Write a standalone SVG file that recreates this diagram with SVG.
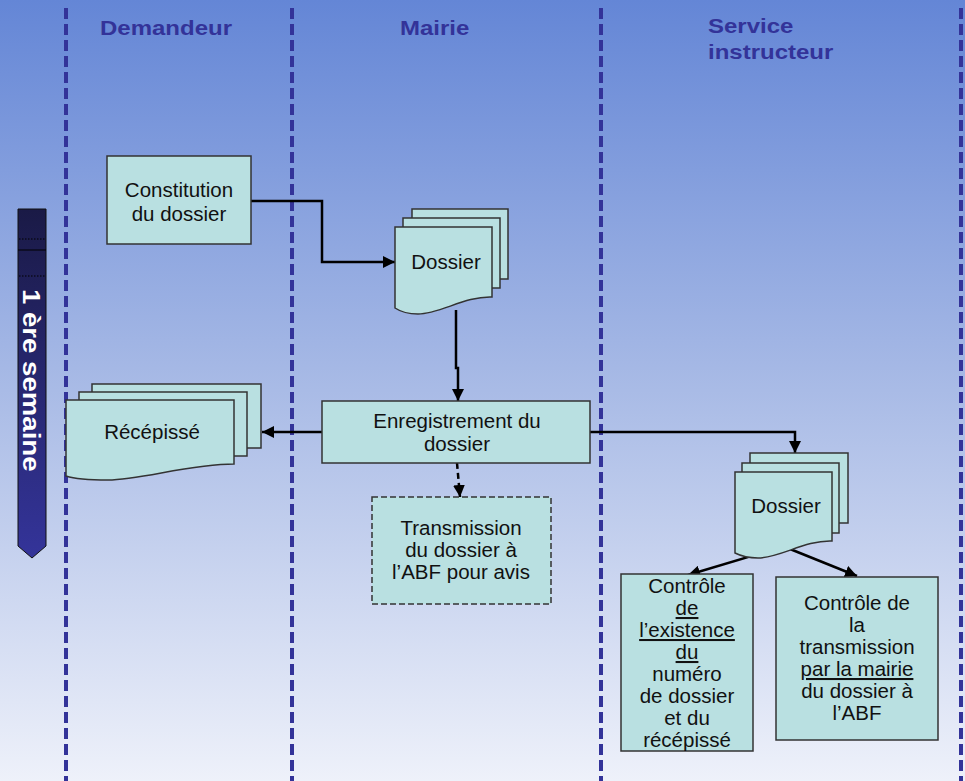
<svg xmlns="http://www.w3.org/2000/svg" width="965" height="781" viewBox="0 0 965 781">
<defs>
<linearGradient id="bg" x1="0" y1="0" x2="0" y2="1">
<stop offset="0" stop-color="#6486d6"/>
<stop offset="0.5" stop-color="#a9bbe6"/>
<stop offset="1" stop-color="#eef1fa"/>
</linearGradient>
<linearGradient id="bar" x1="0" y1="0" x2="0" y2="1">
<stop offset="0" stop-color="#1a1a46"/>
<stop offset="1" stop-color="#34349a"/>
</linearGradient>
<marker id="ah" markerUnits="userSpaceOnUse" markerWidth="14" markerHeight="12" refX="12" refY="6" orient="auto">
<path d="M0,0 L12,6 L0,12 Z" fill="#000"/>
</marker>
<style>
.lane{stroke:#333399;stroke-width:4;stroke-dasharray:11 5;fill:none}
.hdr{font-family:"Liberation Sans",Arial,sans-serif;font-weight:bold;font-size:20px;fill:#333399}
.box{fill:#b9e0e1;stroke:#333;stroke-width:1.5}
.t{font-family:"Liberation Sans",Arial,sans-serif;font-size:20.5px;fill:#111;text-anchor:middle}
.c{stroke:#000;stroke-width:2.5;fill:none}
.u{text-decoration:underline}
</style>
</defs>
<rect width="965" height="781" fill="url(#bg)"/>
<g id="lanes">
<line class="lane" x1="66" y1="8" x2="66" y2="781"/>
<line class="lane" x1="292" y1="8" x2="292" y2="781"/>
<line class="lane" x1="601" y1="8" x2="601" y2="781"/>
<line class="lane" x1="961" y1="8" x2="961" y2="781"/>
</g>
<g id="headers">
<text class="hdr" transform="translate(100,35) scale(1.2,1)">Demandeur</text>
<text class="hdr" transform="translate(400,35) scale(1.2,1)">Mairie</text>
<text class="hdr" transform="translate(708,33) scale(1.2,1)">Service</text>
<text class="hdr" transform="translate(708,59) scale(1.2,1)">instructeur</text>
</g>
<g id="week">
<path d="M18,209 H46 V546 L32,558 L18,546 Z" fill="url(#bar)" stroke="#111" stroke-width="1"/>
<line x1="18" y1="250" x2="46" y2="250" stroke="#000" stroke-width="1"/>
<line x1="19" y1="239" x2="45" y2="239" stroke="#000" stroke-width="1" stroke-dasharray="1.5 1.5"/>
<line x1="19" y1="276" x2="45" y2="276" stroke="#000" stroke-width="1" stroke-dasharray="1.5 1.5"/>
<text transform="translate(23,289) rotate(90) scale(1.15,1)" font-family="'Liberation Sans',Arial,sans-serif" font-weight="bold" font-size="24" fill="#fff">1 ère semaine</text>
</g>
<g id="connectors">
<path class="c" d="M251,201 H322 V262 H395" marker-end="url(#ah)"/>
<path class="c" d="M456,310 V368 H458 V401" marker-end="url(#ah)"/>
<path class="c" d="M322,432 H262" marker-end="url(#ah)"/>
<path class="c" d="M590,432 H795 V453" marker-end="url(#ah)"/>
<path class="c" d="M457,463 L460,497" stroke-dasharray="6 4" marker-end="url(#ah)"/>
<path class="c" d="M768,551 L688,575" marker-end="url(#ah)"/>
<path class="c" d="M790,549 L857,576" marker-end="url(#ah)"/>
</g>
<g id="constitution">
<rect class="box" x="107" y="156" width="144" height="88"/>
<text class="t" x="179" y="197">Constitution</text>
<text class="t" x="179" y="221">du dossier</text>
</g>
<g id="dossier-mairie">
<rect class="box" x="412" y="209" width="96" height="70"/>
<rect class="box" x="403" y="218" width="97" height="70"/>
<path class="box" d="M395,227 H492 V297 C465,296 440,314 418,314 C405,314 398,310 395,308 Z"/>
<text class="t" x="446" y="269">Dossier</text>
</g>
<g id="enregistrement">
<rect class="box" x="322" y="401" width="268" height="62"/>
<text class="t" x="457" y="428">Enregistrement du</text>
<text class="t" x="457" y="451">dossier</text>
</g>
<g id="recepisse">
<rect class="box" x="92" y="384" width="169" height="64"/>
<rect class="box" x="79" y="392" width="168" height="64"/>
<path class="box" d="M66,400 H234 V464 C190,464 140,480 108,480 C85,480 72,478 66,476 Z"/>
<text class="t" x="152" y="439">Récépissé</text>
</g>
<g id="transmission">
<rect class="box" x="372" y="497" width="179" height="107" stroke="#111" stroke-dasharray="6 3" stroke-width="2.2"/>
<text class="t" x="461" y="535">Transmission</text>
<text class="t" x="461" y="557">du dossier à</text>
<text class="t" x="461" y="579">l’ABF pour avis</text>
</g>
<g id="dossier-service">
<rect class="box" x="750" y="453" width="98" height="70"/>
<rect class="box" x="742" y="463" width="97" height="70"/>
<path class="box" d="M735,472 H832 V541 C805,540 780,558 758,558 C745,558 739,555 735,553 Z"/>
<text class="t" x="786" y="513">Dossier</text>
</g>
<g id="controle-existence">
<rect class="box" x="621" y="574" width="132" height="177"/>
<text class="t" x="687" y="593">Contrôle</text>
<text class="t u" x="687" y="615">de</text>
<text class="t u" x="687" y="637">l’existence</text>
<text class="t u" x="687" y="659">du</text>
<text class="t" x="687" y="681">numéro</text>
<text class="t" x="687" y="703">de dossier</text>
<text class="t" x="687" y="725">et du</text>
<text class="t" x="687" y="747">récépissé</text>
</g>
<g id="controle-transmission">
<rect class="box" x="776" y="577" width="162" height="163"/>
<text class="t" x="857" y="610">Contrôle de</text>
<text class="t" x="857" y="632">la</text>
<text class="t" x="857" y="654">transmission</text>
<text class="t u" x="857" y="676">par la mairie</text>
<text class="t" x="857" y="698">du dossier à</text>
<text class="t" x="857" y="720">l’ABF</text>
</g>
</svg>
